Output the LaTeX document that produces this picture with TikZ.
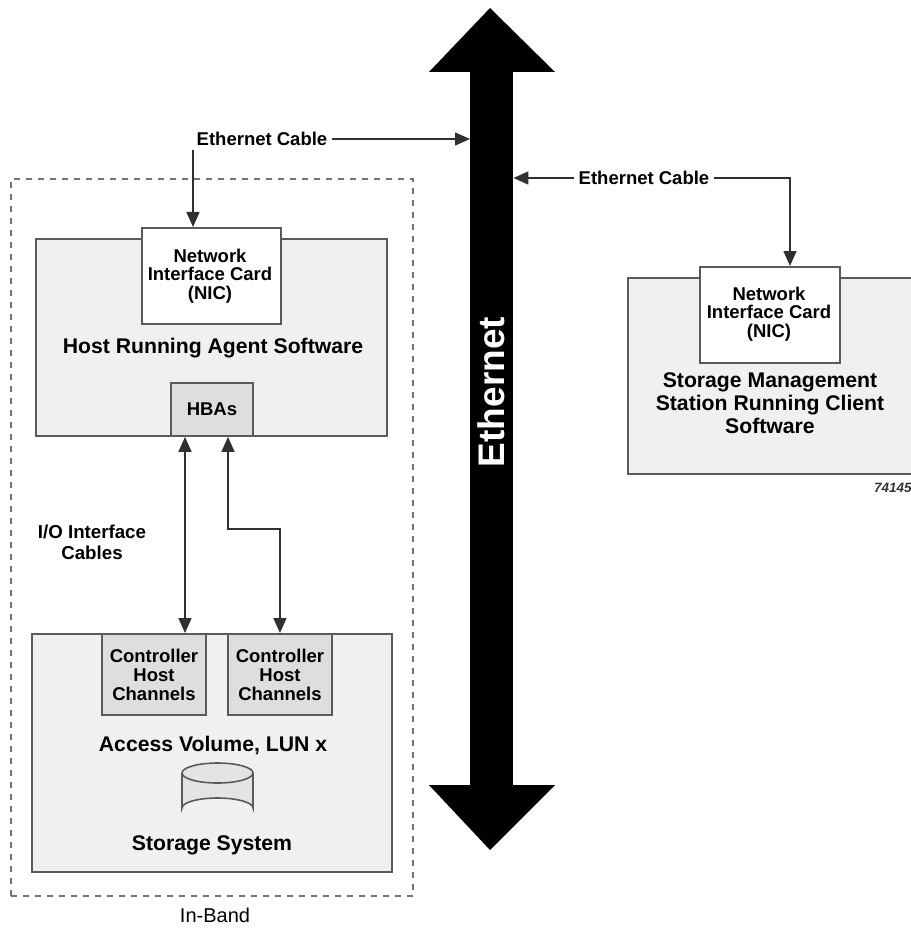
\documentclass[tikz,border=0pt]{standalone}
\usepackage{fontspec}
\setmainfont{Liberation Sans}
\usetikzlibrary{arrows.meta,calc}
\definecolor{boxfill}{HTML}{F0F0F0}
\definecolor{chfill}{HTML}{DEDEDE}
\definecolor{cylfill}{HTML}{E4E4E4}
\definecolor{edgec}{HTML}{5A5A5A}
\definecolor{wire}{HTML}{303030}
\begin{document}
\begin{tikzpicture}[x=1pt,y=-1pt,
  box/.style={draw=edgec, line width=1.9pt, fill=boxfill, inner sep=0pt, anchor=north west},
  nicbox/.style={box, fill=white},
  chbox/.style={box, fill=chfill},
  lbl/.style={font=\fontsize{18.5}{18.5}\selectfont\bfseries, align=center, inner sep=1pt},
  biglbl/.style={font=\fontsize{21.2}{23}\selectfont\bfseries, align=center, inner sep=1pt},
  cablelbl/.style={lbl, inner xsep=5pt, inner ysep=4pt},
  arr/.style={draw=wire, line width=1.6pt, -{Triangle[length=15pt,width=13pt]}},
  darr/.style={draw=wire, line width=1.6pt, {Triangle[length=15pt,width=13pt]}-{Triangle[length=15pt,width=13pt]}}
]
\useasboundingbox (0,0) rectangle (910,933);

% In-band dashed frame
\node[draw=edgec!85, line width=1.6pt, dash pattern=on 6pt off 6pt, inner sep=0pt,
      minimum width=402, minimum height=717, anchor=north west] (inband) at (10,178) {};
\node[font=\fontsize{20}{22}\selectfont, inner sep=1pt] (inbandlbl) at (215,915) {In-Band};

% Ethernet bus (double arrow)
\node[fill=black, inner sep=0pt, minimum width=43, minimum height=713, anchor=north west] (shaft) at (470,72) {};
\fill[black] (429,72) -- (490,8) -- (555,72) -- cycle;
\fill[black] (429,785) -- (490,850) -- (555,785) -- cycle;
\node[rotate=90, text=white, font=\fontsize{37}{40}\selectfont\bfseries, inner sep=0pt] (ethlbl) at (491,392) {Ethernet};

% Host
\node[box, minimum width=351, minimum height=197] (host) at (35,238) {};
\node[nicbox, minimum width=139, minimum height=96] (nic1) at (141,227) {};
\node[lbl] (nic1t) at (210,276) {Network\\Interface Card\\(NIC)};
\node[biglbl] (hostt) at (213,348) {Host Running Agent Software};
\node[chbox, minimum width=82, minimum height=53] (hba) at (170,382) {};
\node[lbl] at (hba.center) {HBAs};

% Storage system
\node[box, minimum width=360, minimum height=238] (stor) at (31,633) {};
\node[chbox, minimum width=104, minimum height=81] (ch1) at (101,633) {};
\node[lbl, font=\fontsize{18.5}{19}\selectfont\bfseries] at (ch1.center) {Controller\\Host\\Channels};
\node[chbox, minimum width=104, minimum height=81] (ch2) at (227,633) {};
\node[lbl, font=\fontsize{18.5}{19}\selectfont\bfseries] at (ch2.center) {Controller\\Host\\Channels};
\node[biglbl] (acc) at (213,745) {Access Volume, LUN x};
\node[biglbl] (storlbl) at (212,845) {Storage System};

% cylinder
\fill[cylfill] (182,773) -- (182,808) arc[start angle=180,end angle=360,x radius=35.5,y radius=10] -- (253,773) -- cycle;
\draw[edgec, line width=1.6pt] (182,773) -- (182,808) arc[start angle=180,end angle=360,x radius=35.5,y radius=10] -- (253,773);
\draw[edgec, line width=1.6pt, fill=cylfill] (217.5,773) ellipse[x radius=35.5, y radius=10];

% I/O label
\node[lbl, font=\fontsize{18.7}{21}\selectfont\bfseries] (io) at (92,542) {I/O Interface\\Cables};

% Management station
\node[box, minimum width=300, minimum height=196] (sms) at (627,277) {};
\node[nicbox, minimum width=140, minimum height=96] (nic2) at (699,266) {};
\node[lbl] (nic2t) at (769,314) {Network\\Interface Card\\(NIC)};
\node[biglbl] (smst) at (770,403) {Storage Management\\Station Running Client\\Software};
\node[font=\fontsize{13.5}{15}\selectfont\bfseries\itshape, text=black!80, anchor=west, inner sep=0pt] (fig) at (874,488) {74145};

% Ethernet cable labels
\node[cablelbl] (ec1) at (262,139) {Ethernet Cable};
\node[cablelbl] (ec2) at (644,178) {Ethernet Cable};

% connectors
\coordinate (c1) at (193,0);
\draw[arr] (ec1.east) -- (ec1.east -| shaft.west);
\draw[arr] (c1 |- ec1.south) -- (c1 |- nic1.north);
\draw[arr] (ec2.west) -- (ec2.west -| shaft.east);
\coordinate (c2) at (790,0);
\draw[arr] (ec2.east) -- (c2 |- ec2.east) -- (c2 |- nic2.north);

\coordinate (a1) at (185,0);
\coordinate (a2) at (228,0);
\coordinate (bend) at (0,529);
\draw[darr] (a1 |- hba.south) -- (a1 |- ch1.north);
\draw[darr] (a2 |- hba.south) -- (a2 |- bend) -- (ch2.center |- bend) -- (ch2.north);
\end{tikzpicture}
\end{document}
